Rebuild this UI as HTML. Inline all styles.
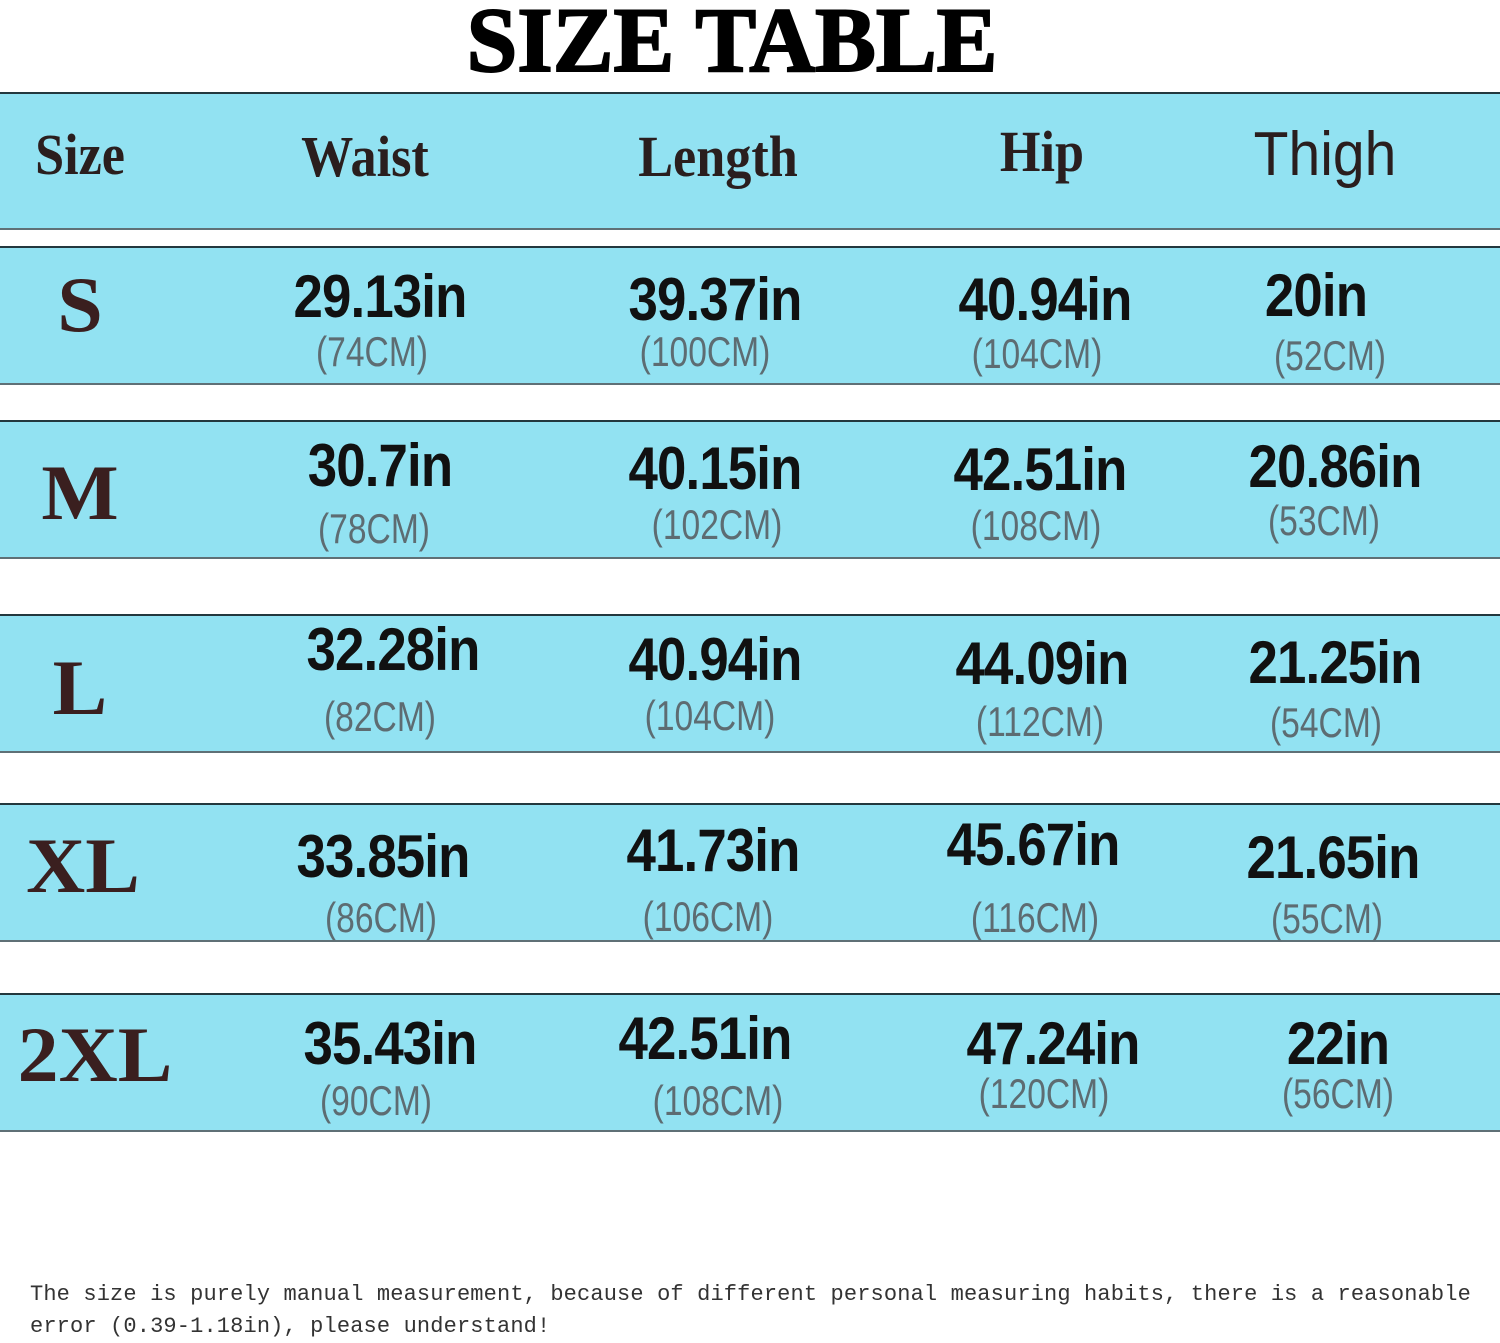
<!DOCTYPE html>
<html><head><meta charset="utf-8">
<style>
body{margin:0;width:1500px;height:1343px;background:#fff;position:relative;overflow:hidden;font-family:"Liberation Sans",sans-serif}
.band{position:absolute;left:0;width:1500px;background:#92e2f2;border-top:2px solid #23383e;border-bottom:2px solid #5f7076;box-sizing:border-box}
.t{position:absolute;white-space:nowrap;transform:translate(-50%,-50%) scaleX(var(--s,0.88));line-height:1}
.num{font-weight:bold;font-size:60px;color:#111;letter-spacing:-1px}
.cm{font-size:42px;color:#5d6c72;--s:0.8}
.sz{font-family:"Liberation Serif",serif;font-weight:bold;font-size:78px;color:#3a1f1f;--s:1.05}
.hd{font-family:"Liberation Serif",serif;font-weight:bold;font-size:58px;color:#2a1e1e;--s:0.9}
</style></head><body>
<div class="t" style="left:732px;top:40px;font-family:'Liberation Serif',serif;font-weight:bold;font-size:92px;--s:0.99;color:#000;-webkit-text-stroke:2px #000">SIZE TABLE</div>
<div class="band" style="top:92px;height:138px"></div>
<div class="t hd" style="left:80px;top:155px">Size</div>
<div class="t hd" style="left:365px;top:157px">Waist</div>
<div class="t hd" style="left:718px;top:157px">Length</div>
<div class="t hd" style="left:1042px;top:152px">Hip</div>
<div class="t" style="left:1325px;top:155px;font-size:62px;color:#2a1e1e;--s:0.92">Thigh</div>
<div id="rows"></div>
<div style="position:absolute;left:30px;top:1279px;font-family:'Liberation Mono',monospace;font-size:22px;letter-spacing:0.14px;line-height:32px;color:#333;white-space:pre">The size is purely manual measurement, because of different personal measuring habits, there is a reasonable
error (0.39-1.18in), please understand!</div>
<script>
const sizes=["S","M","L","XL","2XL"];
const waist=["29.13in","30.7in","32.28in","33.85in","35.43in"];
const waistCm=["(74CM)","(78CM)","(82CM)","(86CM)","(90CM)"];
const lengthIn=["39.37in","40.15in","40.94in","41.73in","42.51in"];
const lengthCm=["(100CM)","(102CM)","(104CM)","(106CM)","(108CM)"];
const hip=["40.94in","42.51in","44.09in","45.67in","47.24in"];
const hipCm=["(104CM)","(108CM)","(112CM)","(116CM)","(120CM)"];
const thigh=["20in","20.86in","21.25in","21.65in","22in"];
const thighCm=["(52CM)","(53CM)","(54CM)","(55CM)","(56CM)"];
const bandTop=[246,420,614,803,993];
const sizeX=[80,80,80,83,95];
const numOff=[[51,54,54,50],[46,49,50,47],[36,46,50,49],[54,48,42,55],[51,46,51,51]];
const cmOff=[[106,106,108,110],[109,105,106,101],[103,102,108,109],[115,114,115,116],[108,108,101,101]];
const colX=[[380,715,1045,1316],[380,715,1040,1335],[393,715,1042,1335],[383,713,1033,1333],[390,705,1053,1338]];
const cmX=[[372,705,1037,1330],[374,717,1036,1324],[380,710,1040,1326],[381,708,1035,1327],[376,718,1044,1338]];
const sizeOff=[59,73,74,63,62];
const root=document.getElementById('rows');
function mk(cls,txt,x,y){const d=document.createElement('div');d.className='t '+cls;d.textContent=txt;d.style.left=x+'px';d.style.top=y+'px';root.appendChild(d);return d;}
const cols=[[waist,waistCm,'waist'],[lengthIn,lengthCm,'length'],[hip,hipCm,'hip'],[thigh,thighCm,'thigh']];
sizes.forEach((s,i)=>{
  const b=document.createElement('div');b.className='band';b.style.top=bandTop[i]+'px';b.style.height='139px';
  
  
  root.appendChild(b);
  const l=mk('sz',s,sizeX[i],bandTop[i]+sizeOff[i]);
  
  
  cols.forEach((c,j)=>{
    const n=mk('num',c[0][i],colX[i][j],bandTop[i]+numOff[i][j]);
    
    
    const m=mk('cm',c[1][i],cmX[i][j],bandTop[i]+cmOff[i][j]);
    
    
  });
});
</script>
</body></html>
